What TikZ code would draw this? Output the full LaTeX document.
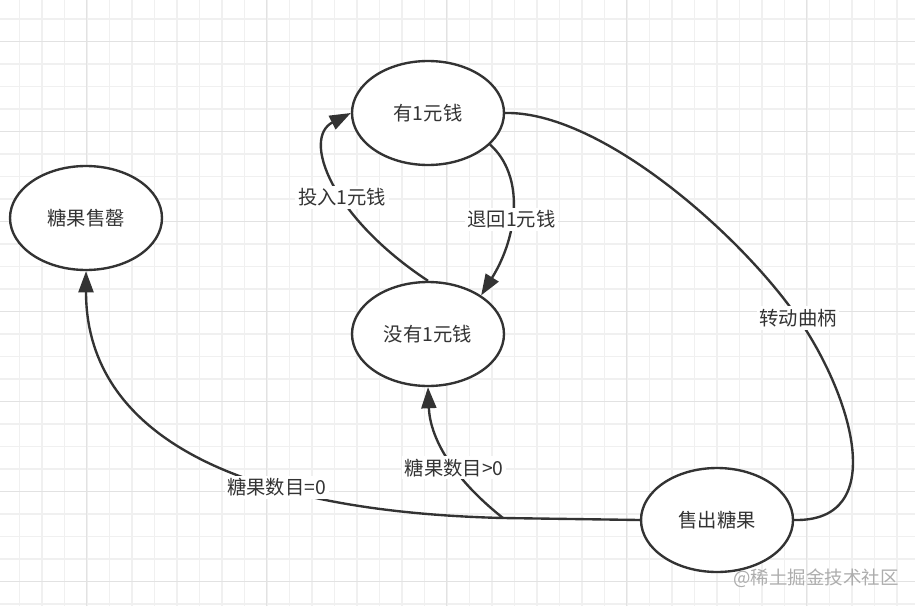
\documentclass[tikz,border=0pt]{standalone}
\usepackage{fontspec}
\setmainfont{Noto Sans CJK SC}
\usetikzlibrary{arrows.meta,shapes.geometric}

\definecolor{ink}{HTML}{333333}
\definecolor{gridminor}{HTML}{F0F0F0}
\definecolor{gridmajor}{HTML}{E2E2E2}

\begin{document}
\begin{tikzpicture}[x=0.02cm,y=0.02cm,
	font=\fontsize{11pt}{13pt}\selectfont,
	state/.style={ellipse,draw=ink,line width=1.35pt,fill=white,text=ink,
		minimum width=3.04cm,minimum height=2.08cm,inner sep=0pt},
	trans/.style={draw=ink,line width=1.35pt},
	arr/.style={trans,-{Triangle[length=12pt,width=8.5pt]}},
	lbl/.style={fill=white,text=ink,inner sep=1.5pt}]
	\useasboundingbox (0,0) rectangle (915,606) ;
	\fill [white] (0,0) rectangle (915,606) ;
	% grid
	\foreach \gx in {0,...,40}
		\draw [gridminor,line width=0.6pt] (19.5+22.5*\gx,0) -- (19.5+22.5*\gx,606) ;
	\foreach \gy in {0,...,26}
		\draw [gridminor,line width=0.6pt] (0,587-22.5*\gy) -- (915,587-22.5*\gy) ;
	\foreach \gx in {0,...,4}
		\draw [gridmajor,line width=0.6pt] (86.7+180*\gx,0) -- (86.7+180*\gx,606) ;
	\foreach \gy in {0,...,6}
		\draw [gridmajor,line width=0.6pt] (0,564.3-90*\gy) -- (915,564.3-90*\gy) ;
	% states
	\node [state] (hasmoney) at (428,493) {有1元钱} ;
	\node [state] (nomoney) at (428,272) {没有1元钱} ;
	\node [state] (soldout) at (86,388) {糖果售罄} ;
	\node [state] (sold) at (717,86) {售出糖果} ;
	\coordinate (split) at (503,88) ;
	% transitions
	\draw [arr] (nomoney.north) .. controls (330,390) and (302,468) .. (hasmoney.west)
		node [lbl,pos=0.42] {投入1元钱} ;
	\draw [arr] (hasmoney.-27) .. controls (525,430) and (518,370) .. (nomoney.36)
		node [lbl,pos=0.56] {退回1元钱} ;
	\draw [trans] (hasmoney.east) .. controls (600,495) and (740,372) .. (798,288)
		node [lbl] {转动曲柄}
		.. controls (852,210) and (890,84) .. (sold.east) ;
	\draw [trans] (sold.west) -- (split) ;
	\draw [arr] (split) .. controls (450,130) and (430,170) .. (nomoney.south)
		node [lbl,pos=0.4] {糖果数目>0} ;
	\draw [arr] (split) .. controls (220,95) and (86,180) .. (soldout.south)
		node [lbl,pos=0.32] {糖果数目=0} ;
	% watermark
	\node [text=black!32,font=\fontsize{10.5pt}{12pt}\selectfont] (mark) at (816,28) {@稀土掘金技术社区} ;
\end{tikzpicture}
\end{document}
